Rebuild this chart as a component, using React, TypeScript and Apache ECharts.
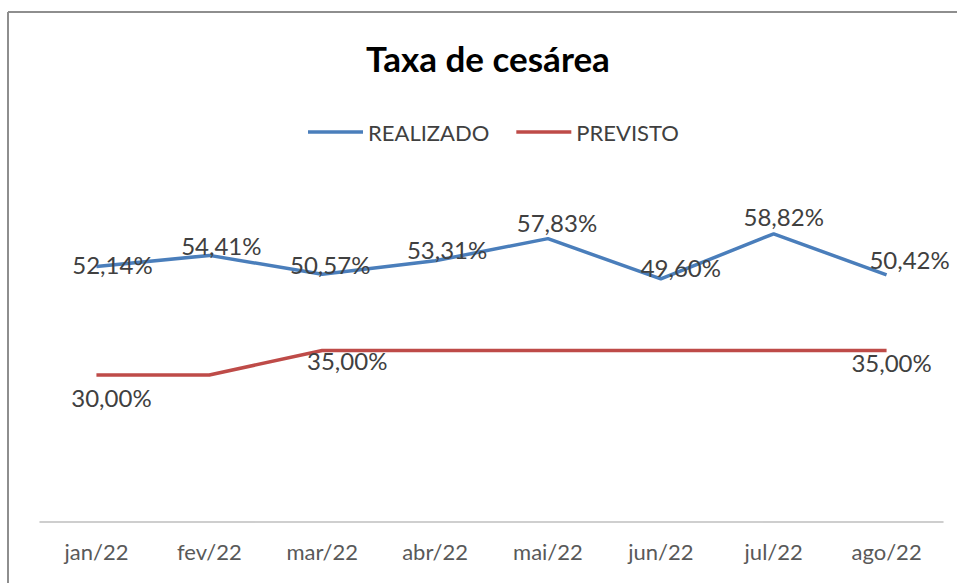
import React, { useEffect, useRef } from "react";
import * as echarts from "echarts";

const categories = ["jan/22", "fev/22", "mar/22", "abr/22", "mai/22", "jun/22", "jul/22", "ago/22"];
const realizado = [52.14, 54.41, 50.57, 53.31, 57.83, 49.6, 58.82, 50.42];
const previsto = [30.0, 30.0, 35.0, 35.0, 35.0, 35.0, 35.0, 35.0];
const previstoLabelShown = [true, false, true, false, false, false, false, true];

// label offsets (styling only)
const realizadoOffsets = [[16, -2], [12, -10], [8, -10], [12, -11], [9, -16], [20, -11], [10, -17], [23, -15]];
const previstoOffsets = [[15, 22], [0, 0], [25, 10], [0, 0], [0, 0], [0, 0], [0, 0], [5, 12]];

const fmt = (v: number) => v.toFixed(2).replace(".", ",") + "%";

export default function App() {
  const ref = useRef<HTMLDivElement>(null);
  useEffect(() => {
    if (!ref.current) return;
    const chart = echarts.init(ref.current, undefined, { renderer: "svg" });
    const labelStyle = {
      color: "#404040",
      fontFamily: "Lato",
      fontSize: 24,
    };
    chart.setOption({
      animation: false,
      backgroundColor: "#ffffff",
      title: {
        text: "Taxa de cesárea",
        left: 361,
        top: 35,
        textStyle: { fontFamily: "Lato", fontWeight: "bold", fontSize: 35, color: "#000000" },
      },
      legend: {
        left: 303,
        top: 116,
        icon: "rect",
        itemWidth: 55,
        itemHeight: 3.5,
        itemGap: 27,
        textStyle: { fontFamily: "Lato", fontSize: 22, color: "#404040" },
        data: ["REALIZADO", "PREVISTO"],
      },
      grid: { left: 40, right: 14, top: 130, bottom: 61, containLabel: false },
      xAxis: {
        type: "category",
        data: categories,
        boundaryGap: true,
        axisLine: { show: true, lineStyle: { color: "#bfbfbf", width: 1.5 } },
        axisTick: { show: false },
        axisLabel: { color: "#595959", fontFamily: "Lato", fontSize: 22, margin: 18 },
        splitLine: { show: false },
      },
      yAxis: {
        type: "value",
        min: 0,
        max: 80,
        show: false,
        splitLine: { show: false },
      },
      graphic: [
        { type: "line", shape: { x1: 8, y1: 12, x2: 957, y2: 12 }, style: { stroke: "#8e8e8e", lineWidth: 2 } },
        { type: "line", shape: { x1: 8, y1: 12, x2: 8, y2: 583 }, style: { stroke: "#8e8e8e", lineWidth: 2 } },
      ],
      series: [
        {
          name: "REALIZADO",
          type: "line",
          symbol: "circle",
          symbolSize: 0.1,
          showSymbol: true,
          lineStyle: { color: "#4A7EBB", width: 3.5 },
          itemStyle: { color: "#4A7EBB" },
          data: realizado.map((v, i) => ({
            value: v,
            label: {
              show: true,
              position: "inside",
              offset: realizadoOffsets[i],
              formatter: (p: any) => fmt(p.value),
              ...labelStyle,
            },
          })),
        },
        {
          name: "PREVISTO",
          type: "line",
          symbol: "circle",
          symbolSize: 0.1,
          showSymbol: true,
          lineStyle: { color: "#BE4B48", width: 3.5 },
          itemStyle: { color: "#BE4B48" },
          data: previsto.map((v, i) => ({
            value: v,
            label: {
              show: previstoLabelShown[i],
              position: "inside",
              offset: previstoOffsets[i],
              formatter: (p: any) => fmt(p.value),
              ...labelStyle,
            },
          })),
        },
      ],
    });
    return () => chart.dispose();
  }, []);
  return (
    <div
      ref={ref}
      style={{ position: "fixed", left: 0, top: 0, width: 957, height: 583 }}
    />
  );
}
